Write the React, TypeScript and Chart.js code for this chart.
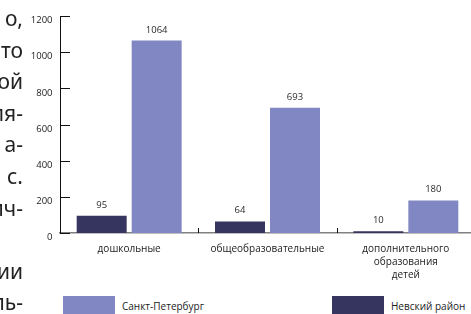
import React, { useEffect, useRef } from "react";
import { Chart, registerables } from "chart.js";

Chart.register(...registerables);

const categories: (string | string[])[] = [
  "дошкольные",
  "общеобразовательные",
  ["дополнительного", "образования", "детей"],
];
const nevskyValues = [95, 64, 10];
const spbValues = [1064, 693, 180];
const seriesNames = ["Невский район", "Санкт-Петербург"];
const seriesColors = ["#36355f", "#8187c3"];
const yMin = 0;
const yMax = 1200;
const yStep = 200;
const sideText = ["о,", "то", "ой", "ля-", "а-", "с.", "ич-", "", "ии", "ль-"];

const FONT = "'Open Sans', sans-serif";

const marksPlugin = {
  id: "marks",
  afterDatasetsDraw(chart: any) {
    const ctx = chart.ctx;
    ctx.save();
    ctx.font = `9.5px ${FONT}`;
    ctx.fillStyle = "#2a2a2a";
    ctx.textAlign = "center";
    ctx.textBaseline = "alphabetic";
    chart.data.datasets.forEach((ds: any, di: number) => {
      const meta = chart.getDatasetMeta(di);
      meta.data.forEach((el: any, i: number) => {
        ctx.fillText(String(ds.data[i]), el.x, el.y - 8);
      });
    });
    ctx.restore();
  },
  afterDraw(chart: any) {
    const ctx = chart.ctx;
    const area = chart.chartArea;
    const ys = chart.scales.y;
    const xs = chart.scales.x;
    ctx.save();
    ctx.strokeStyle = "#111";
    ctx.lineWidth = 1;
    ctx.beginPath();
    ys.ticks.forEach((t: any) => {
      const py = Math.round(ys.getPixelForValue(t.value)) + 0.5;
      ctx.moveTo(area.left, py);
      ctx.lineTo(area.left + 10, py);
    });
    for (let i = 1; i < categories.length; i++) {
      const px =
        Math.round((xs.getPixelForTick(i - 1) + xs.getPixelForTick(i)) / 2) + 0.5;
      ctx.moveTo(px, area.bottom);
      ctx.lineTo(px, area.bottom - 5);
    }
    ctx.stroke();
    ctx.restore();
  },
};

export default function App() {
  const canvasRef = useRef<HTMLCanvasElement | null>(null);

  useEffect(() => {
    if (!canvasRef.current) return;
    const chart = new Chart(canvasRef.current, {
      type: "bar",
      data: {
        labels: categories as any,
        datasets: [
          {
            label: seriesNames[0],
            data: nevskyValues,
            backgroundColor: seriesColors[0],
            borderWidth: 0,
          },
          {
            label: seriesNames[1],
            data: spbValues,
            backgroundColor: seriesColors[1],
            borderWidth: 0,
          },
        ],
      },
      options: {
        responsive: false,
        animation: false,
        events: [],
        layout: { padding: { left: 0, top: 16, right: 15, bottom: 0 } },
        datasets: {
          bar: { categoryPercentage: 0.795, barPercentage: 0.909 },
        } as any,
        plugins: {
          legend: { display: false },
          tooltip: { enabled: false },
        },
        scales: {
          x: {
            grid: { display: false, drawTicks: false },
            border: { display: true, color: "#808080", width: 1.5 },
            ticks: {
              font: { family: FONT, size: 10, lineHeight: 1.34 },
              color: "#222",
              padding: 9,
              maxRotation: 0,
              autoSkip: false,
            },
            afterFit: (scale: any) => {
              scale.height = 57;
            },
          },
          y: {
            min: yMin,
            max: yMax,
            grid: { display: false, drawTicks: false },
            border: { display: true, color: "#111", width: 1 },
            ticks: {
              stepSize: yStep,
              font: { family: FONT, size: 9.5 },
              color: "#222",
              padding: 7.5,
              labelOffset: 4.5,
              callback: (v: any) => String(v),
            },
            afterFit: (scale: any) => {
              scale.width = 60;
            },
          },
        },
      },
      plugins: [marksPlugin],
    });
    return () => chart.destroy();
  }, []);

  return (
    <div
      style={{
        position: "absolute",
        left: 0,
        top: 0,
        width: 471,
        height: 314,
        overflow: "hidden",
        background: "#fff",
      }}
    >
      <canvas
        ref={canvasRef}
        width={490}
        height={290}
        style={{ position: "absolute", left: 0, top: 0, width: 490, height: 290 }}
      />
      <div
        style={{
          position: "absolute",
          left: -277,
          width: 300,
          top: 3,
          textAlign: "right",
          fontFamily: "'Noto Sans', sans-serif",
          fontSize: 21,
          lineHeight: "31.6px",
          color: "#222",
          whiteSpace: "nowrap",
        }}
      >
        {sideText.map((t, i) => (
          <div key={i} style={{ height: 31.6 }}>
            {t}
          </div>
        ))}
      </div>
      <div
        style={{
          position: "absolute",
          left: 63,
          top: 296,
          width: 52,
          height: 20,
          background: seriesColors[1],
        }}
      />
      <div
        style={{
          position: "absolute",
          left: 122,
          top: 299,
          fontFamily: FONT,
          fontSize: 10,
          lineHeight: "14px",
          color: "#222",
          whiteSpace: "nowrap",
        }}
      >
        {seriesNames[1]}
      </div>
      <div
        style={{
          position: "absolute",
          left: 332,
          top: 296,
          width: 52,
          height: 20,
          background: seriesColors[0],
        }}
      />
      <div
        style={{
          position: "absolute",
          left: 391,
          top: 299,
          fontFamily: FONT,
          fontSize: 10,
          lineHeight: "14px",
          color: "#222",
          whiteSpace: "nowrap",
        }}
      >
        {seriesNames[0]}
      </div>
    </div>
  );
}
